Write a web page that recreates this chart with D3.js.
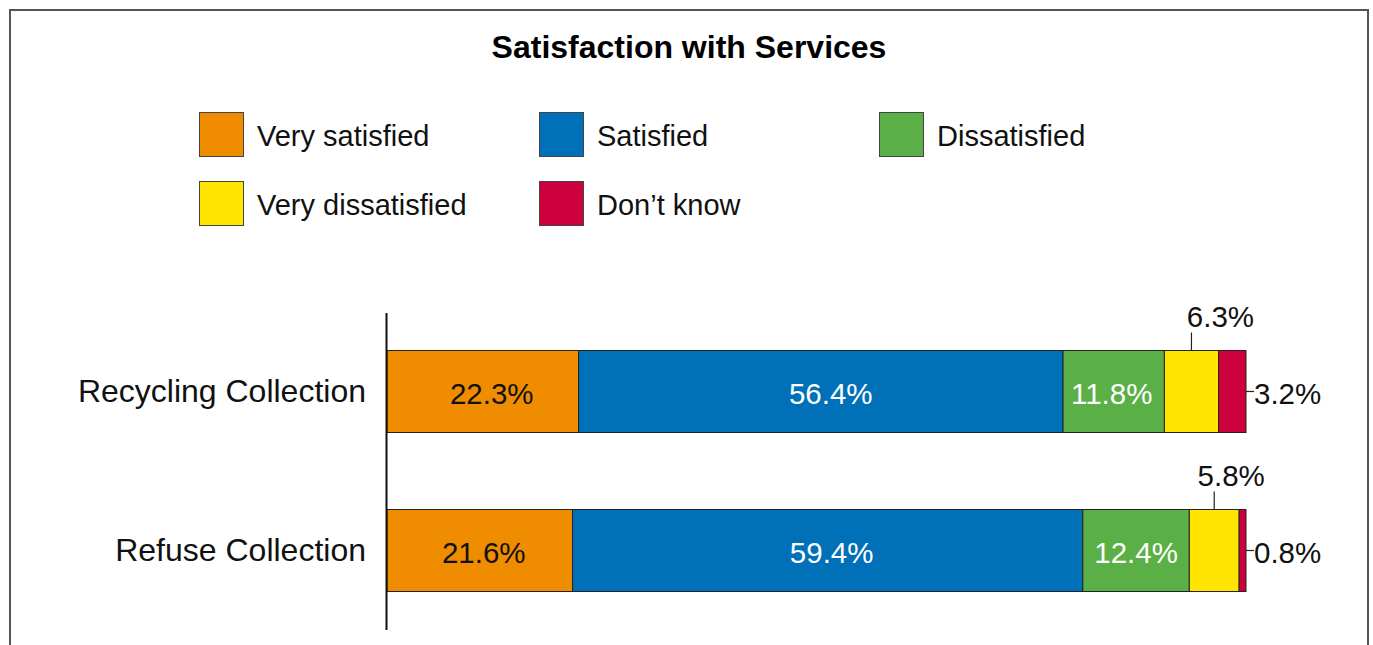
<!DOCTYPE html>
<html>
<head>
<meta charset="utf-8">
<script src="https://cdn.jsdelivr.net/npm/d3@7"></script>
<style>
  html, body { margin: 0; padding: 0; background: #fff; }
  svg { display: block; font-family: "Liberation Sans", Arial, Helvetica, sans-serif; }
</style>
</head>
<body>
<svg id="chart" width="1373" height="645"></svg>
<script>
// Survey results: share of respondents per satisfaction level
const categories = ["Recycling Collection", "Refuse Collection"];
const levels = ["Very satisfied", "Satisfied", "Dissatisfied", "Very dissatisfied", "Don\u2019t know"];
const levelColors = ["#F08C00", "#0070B8", "#5BAF47", "#FFE500", "#CC003D"];
const recyclingValues = [22.3, 56.4, 11.8, 6.3, 3.2];
const refuseValues = [21.6, 59.4, 12.4, 5.8, 0.8];
const seriesValues = [recyclingValues, refuseValues];

const svg = d3.select("#chart");

// Outer frame (open at the bottom)
svg.append("path")
  .attr("d", "M10,646 V10 H1368 V646")
  .attr("fill", "none")
  .attr("stroke", "#555")
  .attr("stroke-width", 2);

svg.append("text")
  .attr("x", 689).attr("y", 58)
  .attr("text-anchor", "middle")
  .attr("font-size", 32).attr("font-weight", "bold")
  .text("Satisfaction with Services");

// Legend: 3 columns x 2 rows
const legendCols = [199, 539, 879];
const legendRows = [112, 181];
const legend = svg.append("g");
levels.forEach((lv, i) => {
  const x = legendCols[i % 3], y = legendRows[Math.floor(i / 3)];
  legend.append("rect")
    .attr("x", x + 0.5).attr("y", y + 0.5)
    .attr("width", 44).attr("height", 44)
    .attr("fill", levelColors[i]).attr("stroke", "#444").attr("stroke-width", 1);
  legend.append("text")
    .attr("x", x + 58).attr("y", y + 34)
    .attr("font-size", 29).attr("fill", "#111")
    .text(lv);
});

// Scales
const x = d3.scaleLinear().domain([0, 100]).range([387, 1246]);
const y = d3.scaleBand().domain(categories).range([312, 630]).paddingInner(0.9).paddingOuter(0.45);
// bar thickness
const bh = 82;
const yc = d => y(d) + y.bandwidth() / 2;

// Category labels
categories.forEach(c => {
  svg.append("text")
    .attr("x", 366).attr("y", yc(c) + 10)
    .attr("text-anchor", "end")
    .attr("font-size", 32).attr("fill", "#111")
    .text(c);
});

const fmt = v => v.toFixed(1) + "%";
// small horizontal nudges for the labels inside the first three segments
const insideShift = [[9, 10, -2], [4, 4, 0]];
// horizontal nudge of the callout label above the "Very dissatisfied" segment
const calloutShift = [29, 17];

categories.forEach((c, ci) => {
  const vals = seriesValues[ci];
  const top = yc(c) - bh / 2;
  let cum = 0;
  const segs = vals.map((v, i) => { const s = { i, v, x0: cum, x1: cum + v }; cum += v; return s; });
  const g = svg.append("g");
  g.selectAll("rect").data(segs).join("rect")
    .attr("x", d => x(d.x0)).attr("y", top)
    .attr("width", d => x(d.x1) - x(d.x0)).attr("height", bh)
    .attr("fill", d => levelColors[d.i])
    .attr("stroke", "#222").attr("stroke-width", 1);

  segs.forEach(d => {
    const mid = (x(d.x0) + x(d.x1)) / 2;
    if (d.i <= 2) {
      g.append("text")
        .attr("x", mid + insideShift[ci][d.i]).attr("y", yc(c) + 12)
        .attr("text-anchor", "middle").attr("font-size", 29.5)
        .attr("fill", d.i === 0 ? "#111" : "#fff")
        .text(fmt(d.v));
    } else if (d.i === 3) {
      g.append("line")
        .attr("x1", mid).attr("x2", mid)
        .attr("y1", top).attr("y2", top - 18)
        .attr("stroke", "#222").attr("stroke-width", 1.2);
      g.append("text")
        .attr("x", mid + calloutShift[ci]).attr("y", top - 24)
        .attr("text-anchor", "middle").attr("font-size", 29.5).attr("fill", "#111")
        .text(fmt(d.v));
    } else {
      g.append("line")
        .attr("x1", x(d.x1)).attr("x2", x(d.x1) + 8)
        .attr("y1", yc(c)).attr("y2", yc(c))
        .attr("stroke", "#222").attr("stroke-width", 1.2);
      g.append("text")
        .attr("x", x(d.x1) + 8).attr("y", yc(c) + 12)
        .attr("font-size", 29.5).attr("fill", "#111")
        .text(fmt(d.v));
    }
  });
});

// Category axis line
svg.append("line")
  .attr("x1", 386.5).attr("x2", 386.5)
  .attr("y1", 313).attr("y2", 630)
  .attr("stroke", "#111").attr("stroke-width", 2);
</script>
</body>
</html>
